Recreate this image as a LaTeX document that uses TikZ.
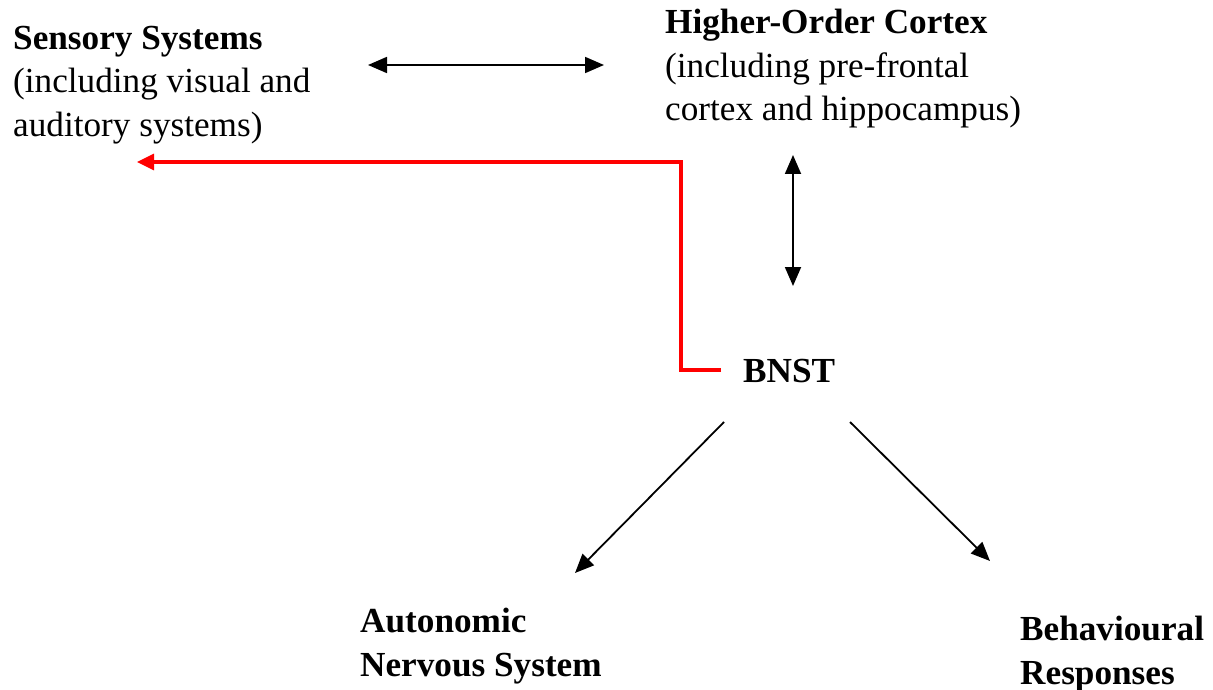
\documentclass[tikz,border=0pt]{standalone}
\usepackage{fontspec}
\setmainfont{Liberation Serif}
\usetikzlibrary{arrows.meta}
\begin{document}
\begin{tikzpicture}[x=1pt,y=-1pt,
  >={Triangle[length=19pt,width=16pt]},
  label/.style={inner sep=0pt, align=left, anchor=north west,
    font=\fontsize{35.2}{43.5}\selectfont},
  link/.style={line width=1.8pt, draw=black},
  feedback/.style={line width=3.2pt, draw=red, line join=miter}]
\useasboundingbox (0,0) rectangle (1213,690);

% text blocks
\node[label] (sens) at (13,25.5) {\textbf{Sensory Systems}\\(including visual and\\auditory systems)};
\node[label] (cortex) at (665,9) {\textbf{Higher-Order Cortex}\\(including pre-frontal\\cortex and hippocampus)};
\node[inner sep=0pt, anchor=base west, font=\fontsize{35.2}{43.5}\selectfont\bfseries] (bnst) at (743,382) {BNST};
\node[label] (ans) at (360,608) {\textbf{Autonomic}\\\textbf{Nervous System}};
\node[label] (beh) at (1020,616) {\textbf{Behavioural}\\\textbf{Responses}};

% connector end points
\coordinate (sc-l) at (368,65);
\coordinate (sc-r) at (604,65);
\coordinate (cb-t) at (793,155);
\coordinate (cb-b) at (793,286);
\coordinate (fb-s) at (721,370);
\coordinate (fb-1) at (681,370);
\coordinate (fb-2) at (681,162);
\coordinate (fb-e) at (137,162);
\coordinate (ba-s) at (724,422);
\coordinate (ba-e) at (575,573);
\coordinate (bb-s) at (850,422);
\coordinate (bb-e) at (990,561);

% connectors
\draw[link, <->] (sc-l) -- (sc-r);
\draw[link, <->] (cb-t) -- (cb-b);
\draw[feedback, -{Triangle[length=17pt,width=16pt]}] (fb-s) -- (fb-1) -- (fb-2) -- (fb-e);
\draw[link, ->] (ba-s) -- (ba-e);
\draw[link, ->] (bb-s) -- (bb-e);
\end{tikzpicture}
\end{document}
